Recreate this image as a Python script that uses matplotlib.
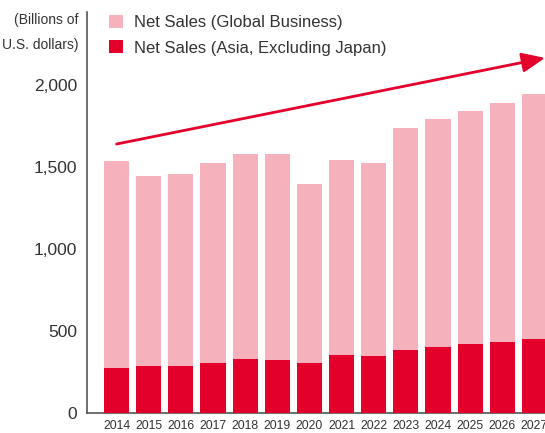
import matplotlib.pyplot as plt
import numpy as np

years = ['2014', '2015', '2016', '2017', '2018', '2019', '2020',
         '2021', '2022', '2023', '2024', '2025', '2026', '2027']
global_sales = [1535, 1445, 1455, 1525, 1580, 1580, 1395,
                1540, 1525, 1740, 1795, 1840, 1890, 1945]
asia_sales = [274, 287, 287, 305, 329, 323, 305,
              355, 349, 386, 404, 423, 435, 453]
yticks = [0, 500, 1000, 1500, 2000]

PINK = '#F5B1BC'
RED = '#E3002B'
TXT = '#333333'

plt.rcParams['font.family'] = ['Liberation Sans', 'DejaVu Sans']

fig = plt.figure(figsize=(5.45, 4.33), dpi=100)
# axes: left spine x=87, bottom y=413, top y=12, right edge = figure edge
ax = fig.add_axes([87 / 545, (433 - 413) / 433, 1 - 87 / 545, (413 - 12) / 433])

x = np.arange(len(years))
b1 = ax.bar(x, global_sales, width=0.78, color=PINK, zorder=2)
b2 = ax.bar(x, asia_sales, width=0.78, color=RED, zorder=3)

ax.set_xlim(-0.92, 13.33)
ax.set_ylim(0, 2445)

for s in ['top', 'right']:
    ax.spines[s].set_visible(False)
for s in ['left', 'bottom']:
    ax.spines[s].set_color('#555555')
    ax.spines[s].set_linewidth(1.2)

ax.set_yticks(yticks)
ax.set_yticklabels(['{:,}'.format(v) for v in yticks], fontsize=12.5, color=TXT)
ax.tick_params(axis='y', length=0, pad=7)
ax.set_xticks(x)
ax.set_xticklabels(years, fontsize=8.8, color=TXT)
ax.tick_params(axis='x', length=0, pad=5)

# trend arrow
ax.annotate('', xy=(13.33, 2165), xytext=(0.0, 1640),
            arrowprops=dict(arrowstyle='-|>,head_length=1.4,head_width=0.6',
                            color=RED, lw=2.0, shrinkA=0, shrinkB=0),
            annotation_clip=False, zorder=4)

# unit label
fig.text(78 / 545, 1 - 20 / 433, '(Billions of', ha='right', va='center',
         fontsize=10, color=TXT)
fig.text(78 / 545, 1 - 45 / 433, 'U.S. dollars)', ha='right', va='center',
         fontsize=10, color=TXT)

fig.legend([b1, b2], ['Net Sales (Global Business)', 'Net Sales (Asia, Excluding Japan)'],
           loc='upper left', bbox_to_anchor=(102 / 545, 1 - 8 / 433),
           frameon=False, fontsize=12, labelcolor=TXT,
           handlelength=0.85, handleheight=0.85, handletextpad=0.65,
           labelspacing=0.6, borderaxespad=0)

fig.savefig('out.png', dpi=100)
